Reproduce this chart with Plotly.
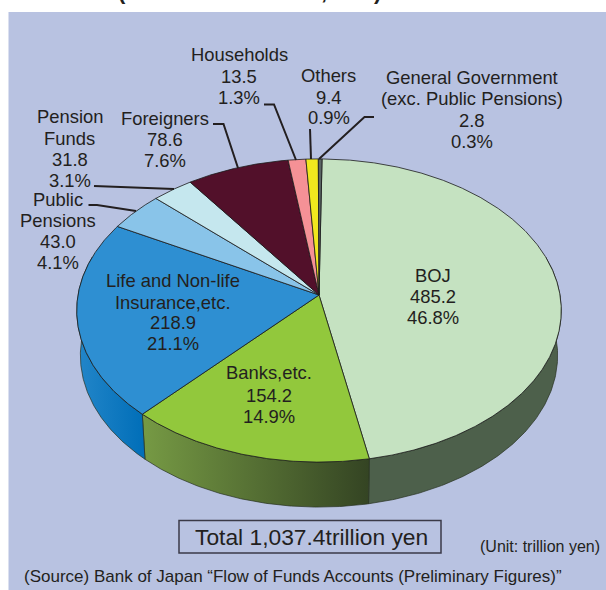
import numpy as np
import plotly.graph_objects as go

# ---------- data ----------
categories = ["BOJ", "Banks,etc.", "Life and Non-life Insurance,etc.", "Public Pensions",
              "Pension Funds", "Foreigners", "Households", "Others", "General Government"]
amounts = [485.2, 154.2, 218.9, 43.0, 31.8, 78.6, 13.5, 9.4, 2.8]
shares = ["46.8%", "14.9%", "21.1%", "4.1%", "3.1%", "7.6%", "1.3%", "0.9%", "0.3%"]
name_lines = [["BOJ"], ["Banks,etc."], ["Life and Non-life", "Insurance,etc."], ["Public", "Pensions"],
              ["Pension", "Funds"], ["Foreigners"], ["Households"], ["Others"],
              ["General Government", "(exc. Public Pensions)"]]
total_label = "Total 1,037.4trillion yen"
unit_label = "(Unit: trillion yen)"
source_label = "(Source) Bank of Japan \u201cFlow of Funds Accounts (Preliminary Figures)\u201d"
cropped_title_glyphs = ["(", ",", ")"]

# ---------- style / layout ----------
top_colors = ["#c5e2c1", "#92c83c", "#2e8fd2", "#89c4e9", "#c5e7ee", "#52102a", "#f59196", "#f0e81e", "#5a6464"]
side_style = {
    0: dict(fillcolor="#4d604b"),
    1: dict(fillgradient=dict(type="horizontal", colorscale=[[0, "#769a44"], [1, "#344423"]])),
    2: dict(fillgradient=dict(type="horizontal", colorscale=[[0, "#2386c9"], [1, "#006eb8"]])),
}
PANEL = "#b8c2e1"
INK = "#231f20"
FS = 18.4
CX, CY, A, B, K = 319.0, 295.0, 241.0, 150.0, 0.1023
START_DEG, DEPTH, SHRINK = 0.8, 45.0, 0.985
label_pos = [  # x centre, y of each line
    (433, [275, 296, 317]),
    (268.6, [372, 395, 416]),
    (172.5, [280, 302, 322, 343]),
    (58, [199, 220, 241, 262]),
    (69.5, [116, 138, 159, 180]),
    (165, [118, 139, 160]),
    (239, [54, 76, 97]),
    (328.5, [75, 97, 117]),
    (472, [77, 98, 120, 141]),
]
title_glyph_x = [122, 324, 377]
leaders = [
    "M264,104.5 L274,104.5 L296,160",
    "M310,129 L311,159",
    "M374,117 L364.5,117 L319,159",
    "M213,124 L223.5,124 L238,168",
    "M94,186 L174,189",
    "M88.5,205 L97,205 L136,211",
]


def rim(theta_deg):
    t = np.radians(theta_deg)
    X, Y = np.sin(t), np.cos(t)
    w = 1 + K * Y
    return CX + A * X / w, CY - B * Y / w


edges = START_DEG + np.concatenate([[0], np.cumsum(amounts)]) / sum(amounts) * 360
fig = go.Figure()

# side walls
side_from, side_to = 75.0, 285.0
for i in range(3):
    a, b = max(edges[i], side_from), min(edges[i + 1], side_to)
    th = np.linspace(a, b, 160)
    x, y = rim(th)
    xb, yb = CX + (x - CX) * SHRINK, y + DEPTH
    fig.add_trace(go.Scatter(
        x=np.r_[x, xb[::-1], x[0]], y=np.r_[y, yb[::-1], y[0]],
        mode="lines", fill="toself", line=dict(color="#26301f", width=0.7),
        hoverinfo="skip", showlegend=False, **side_style[i]))

# top faces
for i, name in enumerate(categories):
    th = np.linspace(edges[i], edges[i + 1], max(6, int(amounts[i] * 1.2)))
    x, y = rim(th)
    fig.add_trace(go.Scatter(
        x=np.r_[CX, x, CX], y=np.r_[CY, y, CY], name=name,
        mode="lines", fill="toself", fillcolor=top_colors[i],
        line=dict(color="#1a1a1a", width=0.8), hoverinfo="name", showlegend=False))

annotations = []
FAMILY = "Liberation Sans, Arial, sans-serif"
def txt(s, x, y, size=FS, xanchor="center"):
    annotations.append(dict(text=s, x=x, y=y, xref="x", yref="y", showarrow=False,
                            xanchor=xanchor, yanchor="middle",
                            font=dict(family=FAMILY, size=size, color=INK)))

for i, (xc, ys) in enumerate(label_pos):
    lines = name_lines[i] + [f"{amounts[i]:.1f}", shares[i]]
    for s, yy in zip(lines, ys):
        txt(s, xc, yy)

txt(total_label, 311.7, 536.5, 22.8)
txt(unit_label, 540, 546.5, 16)
txt(source_label, 292.5, 576.5, 17)
for g, gx in zip(cropped_title_glyphs, title_glyph_x):
    annotations.append(dict(text=f"<b>{g}</b>", x=gx, y=6, xref="x", yref="y", showarrow=False,
                            xanchor="center", yanchor="bottom",
                            font=dict(family=FAMILY, size=22, color=INK)))

shapes = [dict(type="rect", xref="x", yref="y", x0=8.5, x1=606, y0=12, y1=590,
               fillcolor=PANEL, line=dict(width=0), layer="below"),
          dict(type="rect", xref="x", yref="y", x0=179, x1=441, y0=520.5, y1=553,
               fillcolor="rgba(0,0,0,0)", line=dict(color="#3a3a48", width=1.5), layer="above")]
for p in leaders:
    shapes.append(dict(type="path", path=p, xref="x", yref="y",
                       line=dict(color=INK, width=2), layer="above"))

fig.update_layout(
    width=606, height=590, autosize=False,
    margin=dict(l=0, r=0, t=0, b=0),
    paper_bgcolor="white", plot_bgcolor="white",
    xaxis=dict(range=[0, 606], visible=False, fixedrange=True),
    yaxis=dict(range=[590, 0], visible=False, fixedrange=True),
    shapes=shapes, annotations=annotations, showlegend=False,
)
fig.write_html("out.html", post_script="document.body.style.margin='0';",
               config=dict(displayModeBar=False))
